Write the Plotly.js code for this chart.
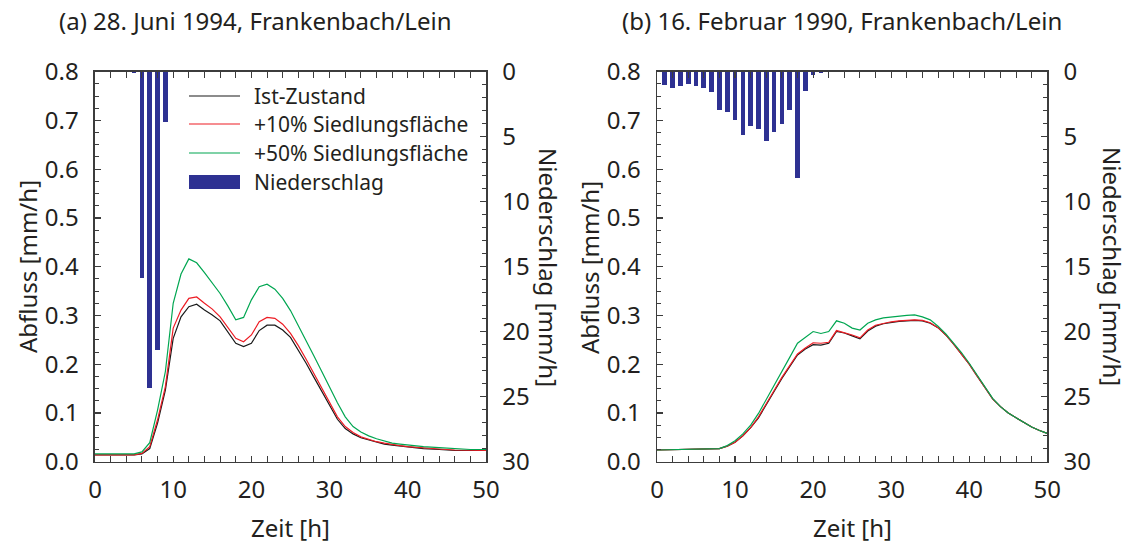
<!DOCTYPE html>
<html>
<head>
<meta charset="utf-8">
<script src="https://cdn.plot.ly/plotly-3.0.1.min.js"></script>
<style>html,body{margin:0;padding:0;background:#fff;}#chart{width:1130px;height:546px;}</style>
</head>
<body>
<div id="chart"></div>
<script>
// ---- Panel (a): 28. Juni 1994 ----
const timeA = [0,5,6,7,8,9,10,11,12,13,14,15,16,17,18,19,20,21,22,23,24,25,26,27,28,29,30,31,32,33,34,35,36,37,38,39,40,42,44,46,48,50];
const istA  = [0.014,0.014,0.016,0.027,0.079,0.147,0.253,0.297,0.318,0.323,0.311,0.301,0.289,0.267,0.243,0.236,0.243,0.269,0.280,0.280,0.270,0.255,0.229,0.202,0.173,0.144,0.113,0.087,0.068,0.057,0.049,0.045,0.040,0.036,0.034,0.032,0.030,0.027,0.025,0.023,0.023,0.023];
const p10A  = [0.014,0.014,0.017,0.031,0.086,0.154,0.274,0.311,0.335,0.338,0.325,0.313,0.297,0.276,0.253,0.246,0.260,0.287,0.296,0.294,0.282,0.263,0.238,0.210,0.181,0.151,0.120,0.092,0.072,0.060,0.051,0.046,0.041,0.038,0.035,0.033,0.031,0.028,0.026,0.024,0.023,0.023];
const p50A  = [0.016,0.016,0.020,0.039,0.106,0.185,0.325,0.385,0.416,0.408,0.388,0.367,0.345,0.319,0.291,0.296,0.332,0.359,0.364,0.354,0.335,0.310,0.280,0.250,0.217,0.185,0.152,0.121,0.092,0.072,0.061,0.053,0.047,0.042,0.038,0.036,0.034,0.031,0.029,0.027,0.025,0.025];
const rainTimeA = [5,6,7,8,9];
const rainA     = [0.1,15.9,24.3,21.4,3.85];

// ---- Panel (b): 16. Februar 1990 ----
const timeB = [0,2,4,8,9,10,11,12,13,14,15,16,17,18,19,20,21,22,23,24,25,26,27,28,29,30,31,32,33,34,35,36,37,38,39,40,41,42,43,44,45,46,47,48,49,50];
const istB  = [0.024,0.025,0.026,0.027,0.032,0.040,0.053,0.070,0.090,0.116,0.144,0.171,0.196,0.219,0.231,0.240,0.239,0.243,0.267,0.264,0.258,0.252,0.268,0.278,0.283,0.286,0.288,0.289,0.290,0.289,0.284,0.275,0.260,0.241,0.221,0.200,0.176,0.152,0.129,0.113,0.100,0.090,0.080,0.071,0.064,0.058];
const p10B  = [0.024,0.025,0.026,0.027,0.032,0.040,0.053,0.070,0.092,0.118,0.146,0.173,0.198,0.221,0.233,0.244,0.243,0.245,0.269,0.265,0.260,0.254,0.270,0.280,0.284,0.287,0.289,0.290,0.291,0.290,0.285,0.275,0.260,0.241,0.221,0.200,0.176,0.152,0.129,0.113,0.100,0.090,0.080,0.071,0.064,0.058];
const p50B  = [0.024,0.025,0.026,0.027,0.033,0.043,0.057,0.075,0.099,0.127,0.155,0.185,0.214,0.243,0.255,0.267,0.263,0.267,0.289,0.284,0.274,0.270,0.284,0.291,0.295,0.297,0.299,0.300,0.301,0.297,0.291,0.278,0.262,0.244,0.224,0.202,0.178,0.154,0.130,0.113,0.100,0.090,0.080,0.071,0.064,0.058];
const rainTimeB = [1,2,3,4,5,6,7,8,9,10,11,12,13,14,15,16,17,18,19,20,21];
const rainB     = [1.0,1.25,1.08,0.95,1.1,1.25,1.56,2.95,3.1,3.72,4.87,4.18,4.41,5.33,4.62,4.0,2.95,8.16,1.49,0.23,0.08];

const seriesNames = ['Ist-Zustand','+10% Siedlungsfläche','+50% Siedlungsfläche','Niederschlag'];
const panelTitles = ['(a) 28. Juni 1994, Frankenbach/Lein','(b) 16. Februar 1990, Frankenbach/Lein'];
const xTitle = 'Zeit [h]', yTitle = 'Abfluss [mm/h]', y2Title = 'Niederschlag [mm/h]';

const FONT = 'Noto Sans, Open Sans, sans-serif';
const TXT = '#231f20';
const AX = '#3c3c3c';
const cBlack = '#1a1a1a', cRed = '#ed1c24', cGreen = '#00a651', cBar = '#2e3192';

function lines(t, a, b, c, xa, ya) {
  return [
    {x:t, y:a, xaxis:xa, yaxis:ya, type:'scatter', mode:'lines', name:seriesNames[0], line:{color:cBlack,width:1.2}, showlegend:false},
    {x:t, y:b, xaxis:xa, yaxis:ya, type:'scatter', mode:'lines', name:seriesNames[1], line:{color:cRed,width:1.2}, showlegend:false},
    {x:t, y:c, xaxis:xa, yaxis:ya, type:'scatter', mode:'lines', name:seriesNames[2], line:{color:cGreen,width:1.2}, showlegend:false}
  ];
}
const data = [
  {x:rainTimeA, y:rainA, xaxis:'x', yaxis:'y2', type:'bar', width:0.6, marker:{color:cBar, line:{width:0}}, name:seriesNames[3], showlegend:false},
  {x:rainTimeB, y:rainB, xaxis:'x2', yaxis:'y4', type:'bar', width:0.6, marker:{color:cBar, line:{width:0}}, name:seriesNames[3], showlegend:false},
  ...lines(timeA, istA, p10A, p50A, 'x', 'y'),
  ...lines(timeB, istB, p10B, p50B, 'x2', 'y3')
];

const tickFont = {family:FONT, size:24, color:TXT};
function xax(dom, anchor) {
  return {domain:dom, anchor:anchor, range:[0,50], dtick:10, tick0:0, ticks:'inside', ticklen:6, tickwidth:1.2, tickcolor:AX,
    minor:{dtick:2, ticks:'inside', ticklen:4, tickwidth:1, tickcolor:AX},
    showline:true, linecolor:AX, linewidth:1.5, mirror:'allticks', showgrid:false, zeroline:false,
    tickfont:tickFont, ticklabelstandoff:6, fixedrange:true};
}
function yax(anchor) {
  return {domain:[0.1544,0.8687], anchor:anchor, range:[0,0.8], dtick:0.1, tick0:0, tickformat:'.1f',
    ticks:'inside', ticklen:6, tickwidth:1.2, tickcolor:AX,
    minor:{dtick:0.025, ticks:'inside', ticklen:4, tickwidth:1, tickcolor:AX},
    showline:true, linecolor:AX, linewidth:1.5, showgrid:false, zeroline:false,
    tickfont:tickFont, ticklabelstandoff:10, fixedrange:true};
}
function y2ax(overlay, anchor) {
  return {overlaying:overlay, anchor:anchor, side:'right', range:[30,0], dtick:5, tick0:0,
    ticks:'inside', ticklen:6, tickwidth:1.2, tickcolor:AX,
    minor:{dtick:1, ticks:'inside', ticklen:4, tickwidth:1, tickcolor:AX},
    showline:true, linecolor:AX, linewidth:1.5, showgrid:false, zeroline:false,
    tickfont:tickFont, ticklabelstandoff:10, fixedrange:true};
}

const annFont = {family:FONT, size:24, color:TXT};
const legFont = {family:FONT, size:21, color:TXT};
const annotations = [
  {text:panelTitles[0], xref:'paper', yref:'paper', x:0.0504, y:0.963, xanchor:'left', yanchor:'middle', showarrow:false, font:annFont},
  {text:panelTitles[1], xref:'paper', yref:'paper', x:0.5487, y:0.963, xanchor:'left', yanchor:'middle', showarrow:false, font:annFont},
  {text:xTitle, xref:'paper', yref:'paper', x:0.2571, y:0.034, xanchor:'center', yanchor:'middle', showarrow:false, font:annFont},
  {text:xTitle, xref:'paper', yref:'paper', x:0.7541, y:0.034, xanchor:'center', yanchor:'middle', showarrow:false, font:annFont},
  {text:yTitle, xref:'paper', yref:'paper', x:0.0248, y:0.511, xanchor:'center', yanchor:'middle', textangle:-90, showarrow:false, font:annFont},
  {text:yTitle, xref:'paper', yref:'paper', x:0.5221, y:0.511, xanchor:'center', yanchor:'middle', textangle:-90, showarrow:false, font:annFont},
  {text:y2Title, xref:'paper', yref:'paper', x:0.4850, y:0.511, xanchor:'center', yanchor:'middle', textangle:90, showarrow:false, font:annFont},
  {text:y2Title, xref:'paper', yref:'paper', x:0.9840, y:0.511, xanchor:'center', yanchor:'middle', textangle:90, showarrow:false, font:annFont}
];
// custom legend (keys drawn as paper shapes, labels as text)
const legRowsPx = [96, 124, 153, 182];
const legColors = [cBlack, cRed, cGreen, cBar];
const shapes = [];
legRowsPx.forEach((py, i) => {
  const yp = (546 - py) / 546;
  if (i < 3) {
    shapes.push({type:'line', xref:'paper', yref:'paper', x0:189/1130, x1:240/1130, y0:yp, y1:yp, line:{color:legColors[i], width:1.2}});
  } else {
    shapes.push({type:'rect', xref:'paper', yref:'paper', x0:189/1130, x1:240/1130, y0:(546-py-7)/546, y1:(546-py+7)/546, fillcolor:cBar, line:{width:0}});
  }
  annotations.push({text:seriesNames[i], xref:'paper', yref:'paper', x:252/1130, y:yp, xanchor:'left', yanchor:'middle', showarrow:false, font:legFont});
});

const layout = {
  width:1130, height:546, margin:{l:0,r:0,t:0,b:0}, paper_bgcolor:'#fff', plot_bgcolor:'rgba(0,0,0,0)',
  font:{family:FONT, color:TXT}, showlegend:false, bargap:0,
  xaxis: xax([0.08407,0.43009], 'y'),
  yaxis: yax('x'),
  yaxis2: y2ax('y', 'x'),
  xaxis2: xax([0.58142,0.92681], 'y3'),
  yaxis3: yax('x2'),
  yaxis4: y2ax('y3', 'x2'),
  annotations: annotations, shapes: shapes
};
Plotly.newPlot('chart', data, layout, {staticPlot:true, displayModeBar:false});
</script>
</body>
</html>
